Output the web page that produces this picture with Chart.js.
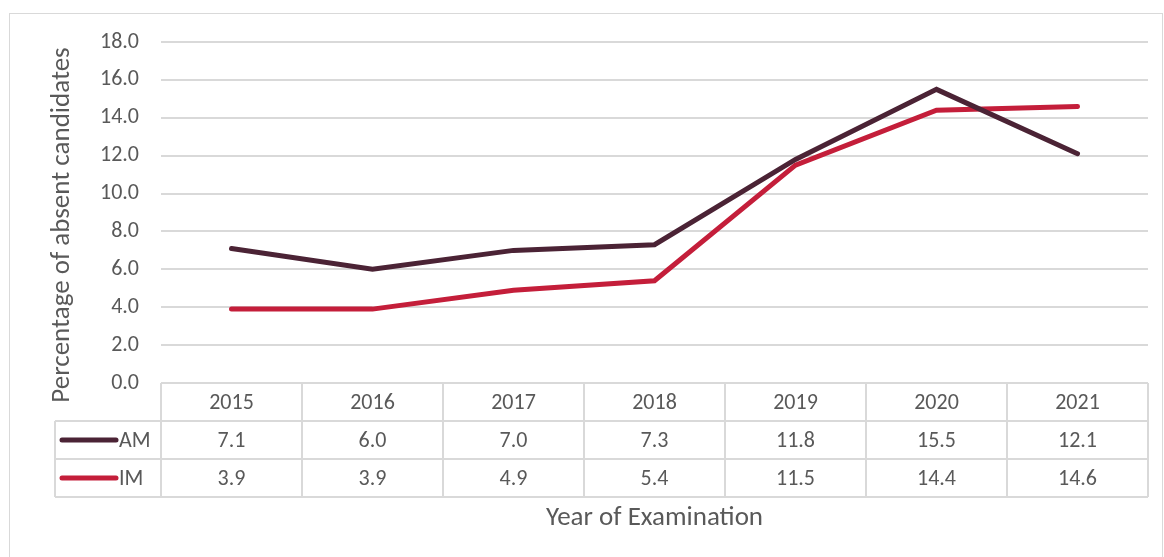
<!DOCTYPE html>
<html>
<head>
<meta charset="utf-8">
<script src="https://cdn.jsdelivr.net/npm/chart.js@4.4.1/dist/chart.umd.min.js"></script>
<style>
  html, body { margin: 0; padding: 0; background: #fff; }
  #wrap { width: 1164px; height: 557px; position: relative; }
</style>
</head>
<body>
<div id="wrap"><canvas id="chart" width="1164" height="557"></canvas></div>
<script>
// ----- data -----
const years = ['2015', '2016', '2017', '2018', '2019', '2020', '2021'];
const amValues = [7.1, 6.0, 7.0, 7.3, 11.8, 15.5, 12.1];
const imValues = [3.9, 3.9, 4.9, 5.4, 11.5, 14.4, 14.6];
const seriesNames = ['AM', 'IM'];
const yTitle = 'Percentage of absent candidates';
const xTitle = 'Year of Examination';

const colors = ['#4B2335', '#C41E3A'];
const gridColor = '#D9D9D9';
const textColor = '#595959';
const fontFamily = "Carlito, Lato, 'Open Sans', sans-serif";
const tickSize = 22;
const titleSize = 27;

// 축 아래 데이터 테이블 + 바깥 테두리 + 축 제목
const tablePlugin = {
  id: 'dataTable',
  beforeDraw(chart) {
    const c = chart.ctx;
    c.save();
    c.fillStyle = '#fff';
    c.fillRect(0, 0, chart.width, chart.height);
    c.strokeStyle = gridColor;
    c.lineWidth = 1;
    c.strokeRect(9.5, 13.5, 1153, 600);
    c.restore();
  },
  afterDraw(chart) {
    const c = chart.ctx;
    const x = chart.scales.x;
    const area = chart.chartArea;
    const rowH = 38;
    const top = area.bottom;
    const legendLeft = 55;
    const half = (x.getPixelForValue(1) - x.getPixelForValue(0)) / 2;

    c.save();
    c.strokeStyle = gridColor;
    c.lineWidth = 2;
    const hline = (y, x0, x1) => { c.beginPath(); c.moveTo(x0, y); c.lineTo(x1, y); c.stroke(); };
    const vline = (xx, y0, y1) => { c.beginPath(); c.moveTo(xx, y0); c.lineTo(xx, y1); c.stroke(); };
    hline(top, area.left, area.right);
    for (let r = 1; r <= 3; r++) hline(top + rowH * r, legendLeft, area.right);
    years.forEach((_, i) => vline(x.getPixelForValue(i) - half, top, top + rowH * 3));
    vline(area.right, top, top + rowH * 3);
    vline(legendLeft, top + rowH, top + rowH * 3);

    c.fillStyle = textColor;
    c.font = tickSize + 'px ' + fontFamily;
    c.textAlign = 'center';
    c.textBaseline = 'middle';
    years.forEach((yr, i) => c.fillText(yr, x.getPixelForValue(i), top + rowH / 2 + 1));

    chart.data.datasets.forEach((ds, k) => {
      const cy = top + rowH * (k + 1) + rowH / 2 + 1;
      ds.data.forEach((v, i) => {
        c.fillStyle = textColor;
        c.textAlign = 'center';
        c.fillText(v.toFixed(1), x.getPixelForValue(i), cy);
      });
      // 범례 키
      c.strokeStyle = ds.borderColor;
      c.lineWidth = 5;
      c.lineCap = 'round';
      c.beginPath(); c.moveTo(62, cy - 1); c.lineTo(116, cy - 1); c.stroke();
      c.fillStyle = textColor;
      c.textAlign = 'left';
      c.fillText(ds.label, 119, cy);
    });

    // 축 제목
    c.textAlign = 'center';
    c.font = titleSize + 'px ' + fontFamily;
    c.fillText(xTitle, (area.left + area.right) / 2, 518);
    c.translate(62, 225);
    c.rotate(-Math.PI / 2);
    c.fillText(yTitle, 0, 0);
    c.restore();
  }
};

const chart = new Chart(document.getElementById('chart'), {
  type: 'line',
  data: {
    labels: years,
    datasets: [
      { label: seriesNames[0], data: amValues },
      { label: seriesNames[1], data: imValues }
    ].map((d, k) => ({
      ...d,
      borderColor: colors[k],
      backgroundColor: colors[k],
      borderWidth: 5,
      borderCapStyle: 'round',
      borderJoinStyle: 'miter',
      pointRadius: 0,
      tension: 0,
      fill: false
    }))
  },
  options: {
    responsive: false,
    animation: false,
    layout: { padding: { left: 80, right: 16, top: 42, bottom: 0 } },
    plugins: {
      legend: { display: false },
      tooltip: { enabled: false }
    },
    scales: {
      x: {
        offset: true,
        grid: { display: false, drawTicks: false },
        border: { display: false },
        ticks: { display: false },
        afterFit(s) { s.height = 557 - 383; }
      },
      y: {
        min: 0,
        max: 18,
        ticks: {
          stepSize: 2,
          color: textColor,
          padding: 22,
          font: { family: fontFamily, size: tickSize },
          callback: v => v.toFixed(1)
        },
        grid: { color: gridColor, lineWidth: 2, drawTicks: false },
        border: { display: false },
        afterFit(s) { s.width = 161 - 80; }
      }
    }
  },
  plugins: [tablePlugin]
});
</script>
</body>
</html>
